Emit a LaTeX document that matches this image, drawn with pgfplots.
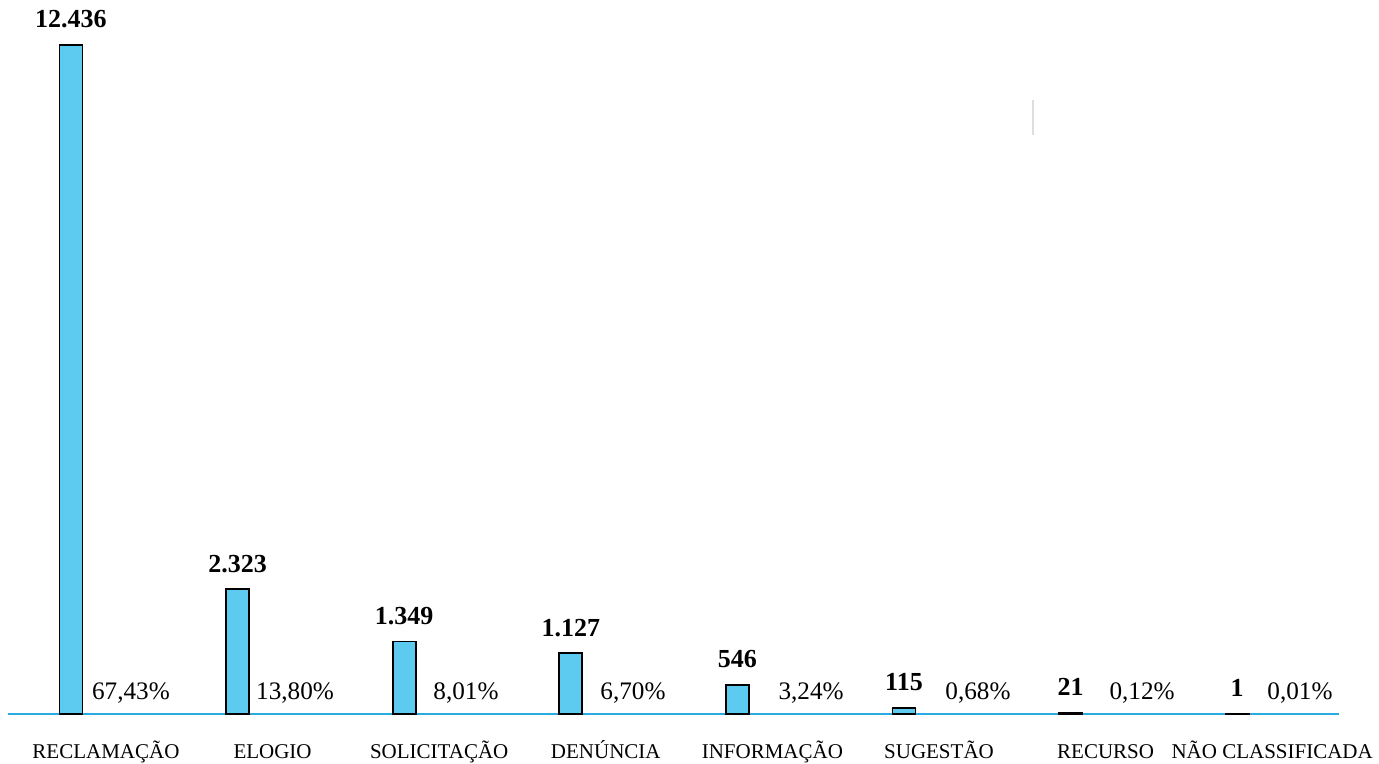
\documentclass[border=0pt]{standalone}
\usepackage{fontspec}
\setmainfont{Liberation Serif}
\usepackage{pgfplots}
\pgfplotsset{compat=1.18}
\definecolor{barfill}{RGB}{93,202,240}
\definecolor{baseblue}{RGB}{41,171,226}
\begin{document}
\begin{tikzpicture}
\begin{axis}[
  scale only axis,
  width=665.5pt, height=357pt,
  xmin=-0.378, xmax=7.611,
  ymin=0, ymax=13272,
  axis x line*=bottom,
  axis y line=none,
  x axis line style={baseblue, line width=1.2pt},
  xtick={0.21,1.21,2.21,3.21,4.21,5.21,6.21,7.21},
  xticklabels={RECLAMAÇÃO,ELOGIO,SOLICITAÇÃO,DENÚNCIA,INFORMAÇÃO,SUGESTÃO,RECURSO,NÃO CLASSIFICADA},
  major tick length=0pt,
  ytick=\empty,
  xticklabel style={anchor=base, yshift=-22pt, font=\fontsize{10.5}{10.5}\selectfont},
  clip=false,
]
% quantidade por tipo
\addplot[ybar, bar width=11.5pt, bar shift=0pt, fill=barfill, draw=black, line width=0.9pt,
  nodes near coords, point meta=explicit symbolic,
  every node near coord/.append style={anchor=base, yshift=8.5pt, text=black,
    font=\bfseries\fontsize{13}{13}\selectfont}]
table[meta=lab] {
x y lab
0 12436 12.436
1 2323 2.323
2 1349 1.349
3 1127 1.127
4 546 546
5 115 115
6 21 21
7 1 1
};
% percentuais
\addplot[draw=none, mark=none,
  nodes near coords, point meta=explicit symbolic,
  every node near coord/.append style={anchor=base, yshift=7.5pt, text=black,
    font=\fontsize{12.6}{12.6}\selectfont}]
table[meta=lab] {
x y lab
0.360 0 67,43\%
1.345 0 13,80\%
2.371 0 8,01\%
3.373 0 6,70\%
4.442 0 3,24\%
5.444 0 0,68\%
6.429 0 0,12\%
7.377 0 0,01\%
};
\draw[black!13, line width=1pt] (axis cs:5.774,11413) -- (axis cs:5.774,10763);
\coordinate (ll) at (rel axis cs:-0.00601,-0.07003);
\coordinate (ur) at (rel axis cs:1.03005,1);
\end{axis}
\pgfresetboundingbox
\path[use as bounding box] (ll) rectangle (ur);
\end{tikzpicture}
\end{document}
